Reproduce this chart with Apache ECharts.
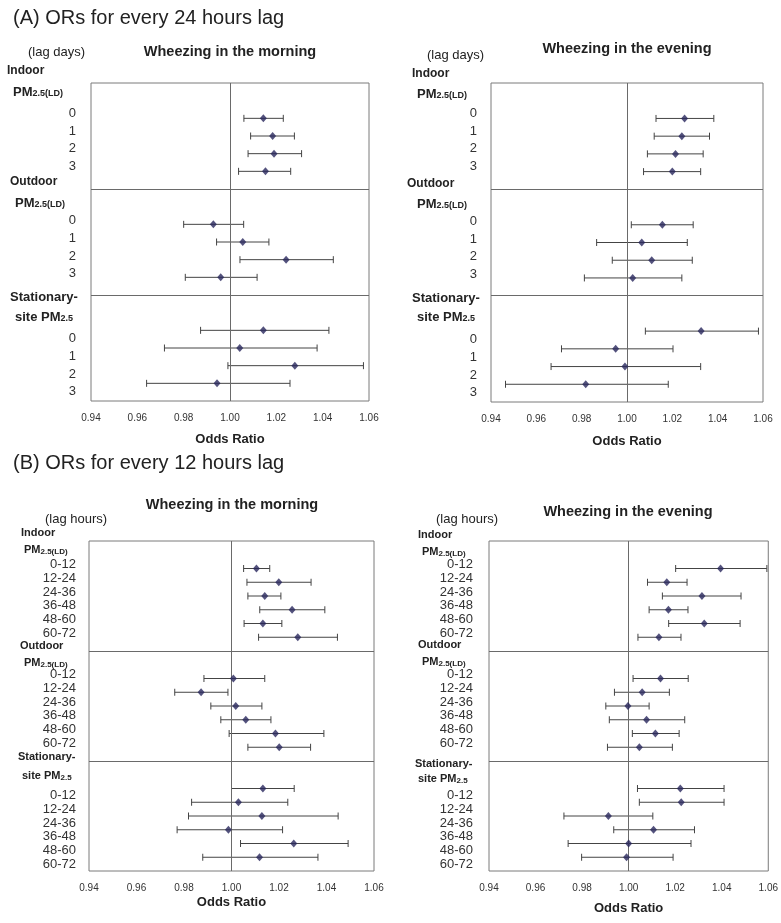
<!DOCTYPE html>
<html>
<head>
<meta charset="utf-8">
<script src="https://cdn.jsdelivr.net/npm/echarts@6/dist/echarts.min.js"></script>
<style>
  html, body { margin: 0; padding: 0; background: #fff; }
  #main { width: 781px; height: 923px; }
</style>
</head>
<body>
<div id="main"></div>
<script>
// tick labels
var lagDays = ['0', '1', '2', '3'];
var lagHours = ['0-12', '12-24', '24-36', '36-48', '48-60', '60-72'];

// (A) 24 hours lag, rows: indoor 0-3, outdoor 0-3, stationary 0-3
var aMornOR = [1.0144, 1.0184, 1.0190, 1.0153, 0.9928, 1.0055, 1.0242, 0.9960, 1.0144, 1.0042, 1.0280, 0.9944];
var aMornLo = [1.0060, 1.0089, 1.0078, 1.0037, 0.9800, 0.9942, 1.0043, 0.9807, 0.9873, 0.9717, 0.9991, 0.9640];
var aMornHi = [1.0230, 1.0278, 1.0309, 1.0262, 1.0059, 1.0168, 1.0446, 1.0117, 1.0427, 1.0376, 1.0576, 1.0259];

var aEveOR = [1.0254, 1.0242, 1.0214, 1.0200, 1.0156, 1.0065, 1.0109, 1.0025, 1.0327, 0.9950, 0.9991, 0.9818];
var aEveLo = [1.0128, 1.0120, 1.0090, 1.0073, 1.0019, 0.9866, 0.9935, 0.9812, 1.0081, 0.9711, 0.9665, 0.9464];
var aEveHi = [1.0383, 1.0364, 1.0336, 1.0325, 1.0292, 1.0266, 1.0288, 1.0242, 1.0580, 1.0203, 1.0325, 1.0182];

// (B) 12 hours lag, rows: indoor 0-12..60-72, outdoor, stationary
var bMornOR = [1.0105, 1.0199, 1.0140, 1.0255, 1.0132, 1.0279,
               1.0008, 0.9872, 1.0018, 1.0060, 1.0185, 1.0201,
               1.0132, 1.0029, 1.0128, 0.9987, 1.0262, 1.0118];
var bMornLo = [1.0051, 1.0065, 1.0069, 1.0119, 1.0053, 1.0114,
               0.9884, 0.9761, 0.9913, 0.9955, 0.9990, 1.0069,
               1.0000, 0.9832, 0.9819, 0.9771, 1.0038, 0.9879];
var bMornHi = [1.0161, 1.0335, 1.0208, 1.0393, 1.0212, 1.0446,
               1.0140, 0.9985, 1.0128, 1.0166, 1.0389, 1.0333,
               1.0264, 1.0237, 1.0449, 1.0215, 1.0491, 1.0364];

var bEveOR = [1.0395, 1.0164, 1.0315, 1.0171, 1.0325, 1.0130,
              1.0137, 1.0058, 0.9997, 1.0077, 1.0115, 1.0046,
              1.0222, 1.0226, 0.9913, 1.0107, 1.0000, 0.9991];
var bEveLo = [1.0202, 1.0081, 1.0145, 1.0088, 1.0172, 1.0040,
              1.0019, 0.9939, 0.9902, 0.9917, 1.0016, 0.9909,
              1.0038, 1.0046, 0.9722, 0.9936, 0.9740, 0.9798];
var bEveHi = [1.0594, 1.0251, 1.0483, 1.0255, 1.0479, 1.0225,
              1.0256, 1.0175, 1.0088, 1.0241, 1.0217, 1.0188,
              1.0410, 1.0410, 1.0104, 1.0283, 1.0268, 1.0191];

var chart = echarts.init(document.getElementById('main'));

var FONT = '"Liberation Sans", Arial, sans-serif';
var NARROW = '"Liberation Sans Narrow", "Liberation Sans", Arial, sans-serif';

// shift: vertical nudge (px) of the lag labels per exposure group, as in the original
var panels = [
  { labels: lagDays,  or: aMornOR, lo: aMornLo, hi: aMornHi, grid: { left: 91,  top: 83,  width: 278, height: 318 }, nameGap: 32, labelMargin: 15, shift: [-5, -3.5, 8.5] },
  { labels: lagDays,  or: aEveOR,  lo: aEveLo,  hi: aEveHi,  grid: { left: 491, top: 83,  width: 272, height: 319 }, nameGap: 33, labelMargin: 14, shift: [-5, -3.5, 8.5] },
  { labels: lagHours, or: bMornOR, lo: bMornLo, hi: bMornHi, grid: { left: 89,  top: 541, width: 285, height: 330 }, nameGap: 25, labelMargin: 13, shift: [-4, -4, 7] },
  { labels: lagHours, or: bEveOR,  lo: bEveLo,  hi: bEveHi,  grid: { left: 489, top: 541, width: 280, height: 330 }, nameGap: 31, labelMargin: 16, shift: [-4, -4, 7] }
];

// each exposure group takes n rows plus two header rows
function rowOf(i, n) {
  var g = Math.floor(i / n);
  return g * (n + 2) + 2 + (i % n);
}

function renderBar(params, api) {
  var y = api.value(0);
  var a = api.coord([api.value(1), y]);
  var b = api.coord([api.value(2), y]);
  var h = 3.5;
  var st = { stroke: '#444', lineWidth: 1 };
  return {
    type: 'group',
    children: [
      { type: 'line', shape: { x1: a[0], y1: a[1], x2: b[0], y2: b[1] }, style: st },
      { type: 'line', shape: { x1: a[0], y1: a[1] - h, x2: a[0], y2: a[1] + h }, style: st },
      { type: 'line', shape: { x1: b[0], y1: b[1] - h, x2: b[0], y2: b[1] + h }, style: st }
    ]
  };
}

var grids = [], xAxes = [], yAxes = [], series = [];
panels.forEach(function (p, k) {
  var n = p.labels.length, size = n + 2;
  var rich = {};
  p.shift.forEach(function (d, g) {
    rich['g' + g] = {
      fontSize: 13, color: '#333', fontFamily: FONT,
      padding: d > 0 ? [2 * d, 0, 0, 0] : [0, 0, -2 * d, 0]
    };
  });
  grids.push(Object.assign({ show: true, borderColor: '#7a7a7a', borderWidth: 1 }, p.grid));
  xAxes.push({
    type: 'value', gridIndex: k, min: 0.94, max: 1.06, interval: 0.02,
    axisLine: { show: false }, axisTick: { show: false }, splitLine: { show: false },
    axisLabel: { margin: 12, fontSize: 10, color: '#333', fontFamily: NARROW,
      formatter: function (v) { return v.toFixed(2); } },
    name: 'Odds Ratio', nameLocation: 'middle', nameGap: p.nameGap,
    nameTextStyle: { fontSize: 13, fontWeight: 'bold', color: '#222', fontFamily: FONT }
  });
  yAxes.push({
    type: 'value', gridIndex: k, inverse: true, min: 0, max: 3 * size, interval: 1,
    axisLine: { show: false }, axisTick: { show: false }, splitLine: { show: false },
    axisLabel: {
      margin: p.labelMargin, fontSize: 13, color: '#333', fontFamily: FONT,
      rich: rich,
      formatter: function (v) {
        var g = Math.floor(v / size), i = v % size - 2;
        return (i >= 0 && i < n) ? '{g' + g + '|' + p.labels[i] + '}' : '';
      }
    }
  });
  var bars = [], pts = [];
  p.or.forEach(function (v, i) {
    var r = rowOf(i, n);
    bars.push([r, p.lo[i], p.hi[i]]);
    pts.push([v, r]);
  });
  series.push({
    type: 'custom', xAxisIndex: k, yAxisIndex: k, renderItem: renderBar,
    encode: { x: [1, 2], y: 0 }, data: bars, silent: true
  });
  series.push({
    type: 'scatter', xAxisIndex: k, yAxisIndex: k, data: pts,
    symbol: 'diamond', symbolSize: [7, 8], itemStyle: { color: '#28275c' }, z: 5,
    markLine: {
      silent: true, symbol: ['none', 'none'], label: { show: false },
      lineStyle: { color: '#6a6a6a', type: 'solid', width: 1 },
      data: [{ xAxis: 1 }, { yAxis: size }, { yAxis: 2 * size }]
    }
  });
});

function txt(x, y, text, size, bold, align) {
  return { type: 'text', x: x, y: y, style: {
    text: text, fill: '#222', textAlign: align || 'left', textVerticalAlign: 'middle',
    font: (bold ? 'bold ' : '') + size + 'px ' + FONT } };
}
function pm(x, y, sub, size, subSize, pre) {
  return { type: 'text', x: x, y: y, style: {
    text: '{b|' + (pre || '') + 'PM}{s|' + sub + '}', textVerticalAlign: 'middle',
    rich: {
      b: { fontSize: size, fontWeight: 'bold', fill: '#222', fontFamily: FONT },
      s: { fontSize: subSize, fontWeight: 'bold', fill: '#222', fontFamily: FONT, verticalAlign: 'bottom' }
    } } };
}

var graphics = [
  txt(13, 18, '(A) ORs for every 24 hours lag', 20, false),
  txt(13, 463, '(B) ORs for every 12 hours lag', 20, false),

  txt(28, 52, '(lag days)', 13, false),
  txt(230, 52, 'Wheezing in the morning', 14.5, true, 'center'),
  txt(7, 71, 'Indoor', 12, true), pm(13, 92, '2.5(LD)', 13, 9),
  txt(10, 182, 'Outdoor', 12, true), pm(15, 203, '2.5(LD)', 13, 9),
  txt(10, 297, 'Stationary-', 13, true), pm(15, 317, '2.5', 13, 9, 'site '),

  txt(427, 55, '(lag days)', 13, false),
  txt(627, 49, 'Wheezing in the evening', 14.5, true, 'center'),
  txt(412, 74, 'Indoor', 12, true), pm(417, 94, '2.5(LD)', 13, 9),
  txt(407, 184, 'Outdoor', 12, true), pm(417, 204, '2.5(LD)', 13, 9),
  txt(412, 298, 'Stationary-', 13, true), pm(417, 317, '2.5', 13, 9, 'site '),

  txt(45, 519, '(lag hours)', 13, false),
  txt(232, 505, 'Wheezing in the morning', 14.5, true, 'center'),
  txt(21, 533, 'Indoor', 11, true), pm(24, 550, '2.5(LD)', 11, 8),
  txt(20, 646, 'Outdoor', 11, true), pm(24, 663, '2.5(LD)', 11, 8),
  txt(18, 757, 'Stationary-', 11, true), pm(22, 776, '2.5', 11, 8, 'site '),

  txt(436, 519, '(lag hours)', 13, false),
  txt(628, 512, 'Wheezing in the evening', 14.5, true, 'center'),
  txt(418, 535, 'Indoor', 11, true), pm(422, 552, '2.5(LD)', 11, 8),
  txt(418, 645, 'Outdoor', 11, true), pm(422, 662, '2.5(LD)', 11, 8),
  txt(415, 764, 'Stationary-', 11, true), pm(418, 779, '2.5', 11, 8, 'site ')
];

chart.setOption({
  animation: false,
  backgroundColor: '#fff',
  textStyle: { fontFamily: FONT },
  grid: grids,
  xAxis: xAxes,
  yAxis: yAxes,
  series: series,
  graphic: graphics
});
</script>
</body>
</html>
